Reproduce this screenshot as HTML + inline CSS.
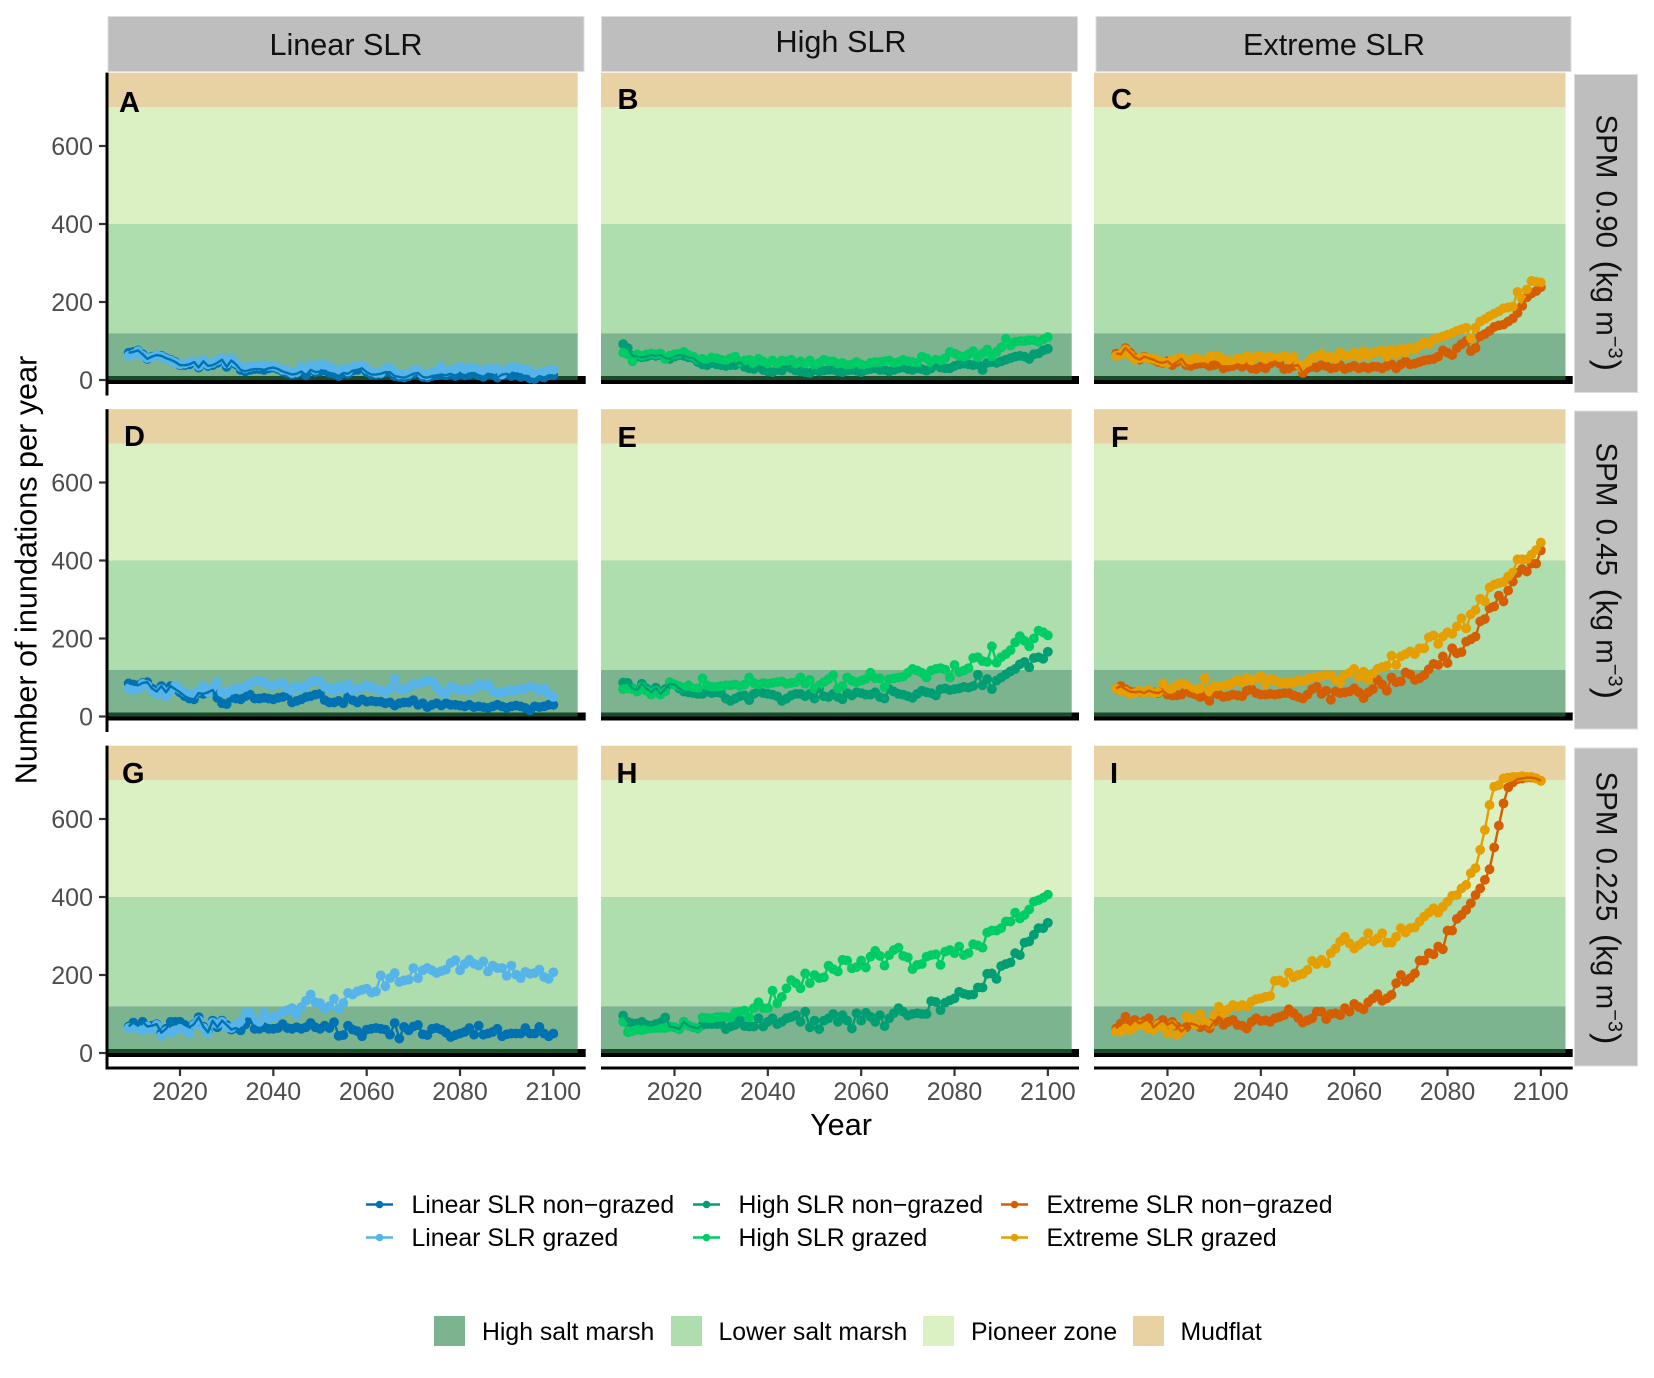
<!DOCTYPE html>
<html lang="en">
<head>
<meta charset="utf-8">
<title>Number of inundations per year</title>
<style>
html,body{margin:0;padding:0;background:#fff;}
svg{display:block;font-family:"Liberation Sans",Arial,Helvetica,sans-serif;}
.strip{fill:#BEBEBE;stroke:#DEDEDE;stroke-width:1;}
.st{font-size:30.6px;fill:#111;text-anchor:middle;}
.sr{font-size:29.5px;fill:#111;}
.tag{font-size:29px;font-weight:bold;fill:#000;}
.leg{font-size:24.8px;fill:#000;}
.tick{font-size:25px;fill:#4D4D4D;}
.title{font-size:30.6px;fill:#000;text-anchor:middle;}
</style>
</head>
<body>
<svg id="chart" xmlns="http://www.w3.org/2000/svg" width="1654" height="1378" viewBox="0 0 1654 1378">
  <rect x="0" y="0" width="1654" height="1378" fill="#fff"/>
  <g id="panels"></g>
  <g id="axes"></g>

  <g>
    <rect class="strip" x="108" y="16.5" width="476" height="55"/>
    <text class="st" x="346" y="55">Linear SLR</text>
    <rect class="strip" x="601.5" y="16.5" width="476" height="55"/>
    <text class="st" x="841" y="52">High SLR</text>
    <rect class="strip" x="1096" y="16.5" width="475" height="55"/>
    <text class="st" x="1334" y="55">Extreme SLR</text>
  </g>

  <g>
    <rect class="strip" x="1574.5" y="74.5" width="63" height="318"/>
    <text class="sr" transform="translate(1596.5,114.5) rotate(90)">SPM<tspan dx="4"> </tspan>0.90<tspan dx="3" font-size="34"> (</tspan>kg m<tspan font-size="20" dy="-12">−3</tspan><tspan font-size="34" dy="12" dx="1">)</tspan></text>
    <rect class="strip" x="1574.5" y="411" width="63" height="318"/>
    <text class="sr" transform="translate(1596.5,442.5) rotate(90)">SPM<tspan dx="4"> </tspan>0.45<tspan dx="3" font-size="34"> (</tspan>kg m<tspan font-size="20" dy="-12">−3</tspan><tspan font-size="34" dy="12" dx="1">)</tspan></text>
    <rect class="strip" x="1574.5" y="748" width="63" height="318"/>
    <text class="sr" transform="translate(1596.5,771.5) rotate(90)">SPM<tspan dx="4"> </tspan>0.225<tspan dx="3" font-size="34"> (</tspan>kg m<tspan font-size="20" dy="-12">−3</tspan><tspan font-size="34" dy="12" dx="1">)</tspan></text>
  </g>

  <g>
    <text class="tag" x="119" y="112">A</text>
    <text class="tag" x="617.5" y="109">B</text>
    <text class="tag" x="1111" y="109">C</text>
    <text class="tag" x="124" y="446">D</text>
    <text class="tag" x="617.5" y="447">E</text>
    <text class="tag" x="1111" y="447">F</text>
    <text class="tag" x="122" y="783">G</text>
    <text class="tag" x="616.5" y="783">H</text>
    <text class="tag" x="1110" y="783">I</text>
  </g>

  <text class="title" transform="translate(36.5,570) rotate(-90)">Number of inundations per year</text>
  <text class="title" x="841" y="1135">Year</text>

  <g>
    <g>
      <line x1="366" x2="393" y1="1204.5" y2="1204.5" stroke="#0072B2" stroke-width="2.4"/><circle cx="379.5" cy="1204.5" r="3.8" fill="#0072B2"/>
      <text class="leg" x="411.5" y="1213">Linear SLR non−grazed</text>
    </g>
    <g>
      <line x1="366" x2="393" y1="1237.5" y2="1237.5" stroke="#56B4E9" stroke-width="2.4"/><circle cx="379.5" cy="1237.5" r="3.8" fill="#56B4E9"/>
      <text class="leg" x="411.5" y="1246">Linear SLR grazed</text>
    </g>
    <g>
      <line x1="693" x2="720" y1="1204.5" y2="1204.5" stroke="#009E73" stroke-width="2.4"/><circle cx="706.5" cy="1204.5" r="3.8" fill="#009E73"/>
      <text class="leg" x="738.5" y="1213">High SLR non−grazed</text>
    </g>
    <g>
      <line x1="693" x2="720" y1="1237.5" y2="1237.5" stroke="#00CC66" stroke-width="2.4"/><circle cx="706.5" cy="1237.5" r="3.8" fill="#00CC66"/>
      <text class="leg" x="738.5" y="1246">High SLR grazed</text>
    </g>
    <g>
      <line x1="1001" x2="1028" y1="1204.5" y2="1204.5" stroke="#D55E00" stroke-width="2.4"/><circle cx="1014.5" cy="1204.5" r="3.8" fill="#D55E00"/>
      <text class="leg" x="1046.5" y="1213">Extreme SLR non−grazed</text>
    </g>
    <g>
      <line x1="1001" x2="1028" y1="1237.5" y2="1237.5" stroke="#E69F00" stroke-width="2.4"/><circle cx="1014.5" cy="1237.5" r="3.8" fill="#E69F00"/>
      <text class="leg" x="1046.5" y="1246">Extreme SLR grazed</text>
    </g>
  </g>

  <g>
    <g>
      <rect x="434" y="1316" width="31" height="30" fill="#7CB48F"/>
      <text class="leg" x="482" y="1340">High salt marsh</text>
    </g>
    <g>
      <rect x="671" y="1316" width="31" height="30" fill="#AEDDAE"/>
      <text class="leg" x="718.5" y="1340">Lower salt marsh</text>
    </g>
    <g>
      <rect x="923" y="1316" width="31" height="30" fill="#DBF0C3"/>
      <text class="leg" x="971" y="1340">Pioneer zone</text>
    </g>
    <g>
      <rect x="1133" y="1316" width="31" height="30" fill="#E8D2A4"/>
      <text class="leg" x="1180.5" y="1340">Mudflat</text>
    </g>
  </g>
</svg>

<script>
// ---- categories and tick labels ----
const years = [
2009,2010,2011,2012,2013,2014,2015,2016,2017,2018,
2019,2020,2021,2022,2023,2024,2025,2026,2027,2028,
2029,2030,2031,2032,2033,2034,2035,2036,2037,2038,
2039,2040,2041,2042,2043,2044,2045,2046,2047,2048,
2049,2050,2051,2052,2053,2054,2055,2056,2057,2058,
2059,2060,2061,2062,2063,2064,2065,2066,2067,2068,
2069,2070,2071,2072,2073,2074,2075,2076,2077,2078,
2079,2080,2081,2082,2083,2084,2085,2086,2087,2088,
2089,2090,2091,2092,2093,2094,2095,2096,2097,2098,
2099,2100];
const xTickLabels = [2020,2040,2060,2080,2100];
const yTickLabels = [0,200,400,600];
const zoneLimits = [0,120,400,700,788];
const zoneNames = ['high-salt-marsh','lower-salt-marsh','pioneer-zone','mudflat'];

// ---- series values: inundations per year ----
const linear090Non = [
70,72,76,66,54,60,64,62,56,52,
46,38,38,40,46,32,48,36,38,44,
52,34,50,40,26,22,26,28,28,26,
30,32,28,22,18,14,16,22,12,26,
20,22,24,18,16,10,18,16,24,26,
30,20,14,14,16,20,20,10,8,6,
10,16,18,8,6,10,12,14,12,16,
10,16,12,14,18,12,8,16,14,6,
14,16,10,14,8,10,4,2,10,6,
12,12];
const linear090Graz = [
62,66,74,62,56,58,64,60,54,50,
44,40,42,46,48,36,52,40,44,50,
56,42,56,44,34,30,34,36,36,38,
36,36,32,26,24,18,20,34,26,38,
26,40,38,34,28,22,28,22,34,36,
38,28,22,18,18,30,32,20,14,14,
16,24,26,14,12,20,24,34,20,24,
28,34,28,32,32,26,20,30,26,30,
14,26,34,32,30,26,24,14,18,20,
26,26];
const high090Non = [
92,82,62,60,58,60,64,62,64,56,
54,60,64,62,58,56,46,40,38,44,
40,38,36,38,38,46,34,30,28,34,
26,22,20,26,24,36,30,24,22,20,
18,26,22,24,26,26,22,20,24,26,
24,20,26,28,30,26,26,22,26,30,
32,28,26,30,28,24,30,40,32,30,
30,36,40,42,40,38,40,26,44,46,
44,48,52,56,60,62,60,54,66,68,
76,80];
const high090Graz = [
70,66,48,66,62,66,68,66,68,54,
62,66,68,72,64,60,52,54,50,58,
56,52,50,56,60,46,50,52,40,54,
48,42,50,42,50,48,52,42,48,42,
50,38,44,52,48,48,42,44,38,40,
46,40,36,44,46,46,48,50,44,46,
52,48,46,44,60,56,44,52,50,56,
72,68,62,60,66,74,58,68,78,60,
72,84,106,88,98,100,100,102,102,98,
104,110];
const extreme090Non = [
68,66,82,70,58,52,60,56,52,46,
44,48,38,46,54,38,36,40,42,42,
36,38,42,30,34,36,40,34,40,30,
28,34,30,42,48,42,28,30,36,38,
18,30,34,32,38,36,30,32,38,28,
32,36,30,34,30,34,34,30,36,40,
30,40,48,40,42,46,50,52,54,60,
76,70,64,82,92,100,74,82,112,118,
126,136,140,142,150,158,172,190,212,222,
228,238];
const extreme090Graz = [
62,66,78,64,52,56,58,56,54,50,
46,44,52,54,58,46,52,56,52,50,
60,62,60,50,50,46,56,52,62,50,
60,62,54,60,56,58,62,52,60,40,
30,44,56,62,66,58,60,54,70,62,
62,70,60,74,62,70,72,76,60,78,
66,80,70,84,78,88,96,92,104,108,
112,116,120,126,130,134,106,134,150,156,
164,170,176,184,186,188,226,208,232,254,
252,250];
const linear045Non = [
85,82,80,86,88,72,64,78,62,78,
70,62,52,46,44,60,58,62,68,48,
34,32,48,46,44,52,56,46,46,48,
46,44,48,50,54,36,40,44,50,52,
56,58,42,36,36,40,34,50,42,36,
44,38,40,38,38,34,36,28,34,36,
36,42,30,34,24,30,34,28,34,30,
30,28,26,30,24,26,24,22,26,30,
26,22,26,28,26,22,16,26,24,26,
30,30];
const linear045Graz = [
72,68,70,84,80,64,58,70,52,66,
80,70,62,56,56,66,78,62,74,88,
62,60,68,72,70,76,84,90,92,88,
80,78,84,86,72,66,78,72,78,88,
92,90,76,72,66,78,70,84,66,70,
74,80,74,70,66,62,72,96,72,68,
74,84,84,88,92,90,76,62,58,76,
72,68,70,66,72,84,78,82,66,60,
62,64,68,66,70,72,76,74,66,72,
58,50];
const high045Non = [
87,86,72,68,84,72,62,74,58,70,
84,82,72,64,62,60,58,58,64,60,
62,60,46,40,46,52,54,42,58,64,
60,58,56,52,40,46,54,58,58,52,
58,46,72,52,50,58,50,44,60,54,
62,60,56,56,62,50,46,70,64,58,
56,52,48,58,66,62,60,54,70,72,
68,70,72,76,74,78,107,80,96,70,
92,100,108,116,122,134,140,126,150,152,
148,166];
const high045Graz = [
70,72,70,64,76,66,56,66,56,64,
88,82,78,74,80,72,72,98,80,76,
76,78,80,80,82,78,82,100,86,82,
86,84,86,88,90,84,86,88,100,84,
94,72,80,88,96,106,72,78,100,92,
88,92,96,112,98,98,75,96,98,100,
102,112,122,118,112,100,118,122,124,120,
100,132,114,118,124,150,152,142,140,180,
138,152,160,170,190,206,194,180,200,220,
216,208];
const extreme045Non = [
72,78,70,64,62,64,60,66,62,60,
66,56,54,54,56,68,60,56,50,52,
40,60,56,50,52,56,54,52,66,70,
60,56,56,58,56,58,60,60,54,50,
46,56,70,76,58,66,43,64,60,62,
64,72,62,47,62,70,94,82,66,100,
88,90,113,108,94,98,106,121,135,132,
154,137,175,162,165,192,198,205,244,250,
278,282,310,295,323,346,368,378,372,392,
392,426];
const extreme045Graz = [
72,66,64,58,60,66,60,68,60,62,
85,66,72,80,85,81,72,68,72,98,
64,77,78,79,82,86,94,88,98,92,
96,103,83,96,92,87,85,88,87,92,
90,96,100,101,104,106,106,94,88,107,
112,122,100,115,94,110,122,127,130,156,
132,154,160,167,160,175,175,203,208,186,
205,216,212,231,252,226,262,273,302,295,
331,338,342,345,359,369,403,403,403,415,
427,446];
const linear0225Non = [
68,78,70,80,68,70,74,52,62,80,
80,80,72,66,74,92,68,53,83,66,
83,72,60,64,58,73,87,62,62,66,
62,62,64,74,64,62,66,62,66,77,
66,62,70,64,79,44,46,70,60,56,
43,60,62,64,62,60,47,77,37,67,
58,68,72,48,46,62,64,60,52,41,
46,50,54,64,47,70,47,50,54,62,
43,48,50,50,50,64,50,50,67,50,
43,50];
const linear0225Graz = [
64,66,62,58,68,60,72,44,56,52,
58,62,60,50,72,84,64,50,78,74,
80,66,64,72,80,103,103,85,80,103,
88,92,96,107,110,115,98,118,134,150,
130,128,113,120,139,113,128,154,150,158,
162,165,155,158,199,171,192,205,182,186,
188,218,192,212,218,212,205,210,214,231,
238,212,228,239,229,224,235,209,224,218,
218,198,224,201,192,208,203,205,214,195,
190,207];
const high0225Non = [
96,80,76,76,80,72,70,74,78,91,
68,66,61,80,70,66,63,72,74,74,
74,74,61,68,72,85,69,68,68,89,
68,80,89,74,80,89,92,97,80,106,
66,83,61,83,89,100,80,97,83,63,
102,83,103,93,80,97,69,89,102,115,
106,96,100,102,100,100,133,131,110,129,
135,140,157,152,149,150,168,168,203,204,
190,223,228,232,256,251,283,286,303,320,
320,334];
const high0225Graz = [
80,53,56,60,58,62,63,64,64,64,
68,66,61,80,70,66,63,91,90,89,
92,93,92,91,104,106,109,91,115,130,
115,115,160,127,144,166,187,179,166,204,
179,200,192,194,224,215,209,239,237,217,
220,237,219,247,262,249,224,251,264,270,
249,245,215,226,228,247,251,253,226,260,
264,256,273,251,256,279,276,270,309,314,
314,320,337,337,360,345,354,368,388,392,
398,406];
const extreme0225Non = [
63,76,93,72,85,76,82,89,66,76,
85,72,80,68,55,66,76,72,66,70,
63,80,93,72,80,85,72,70,63,80,
89,82,84,80,89,92,97,112,102,90,
78,84,89,106,106,87,100,102,97,115,
106,126,118,112,130,140,151,134,140,149,
179,200,183,192,204,237,237,256,253,273,
266,314,314,344,354,367,384,405,422,444,
471,527,583,640,681,694,702,704,706,706,
704,698];
const extreme0225Graz = [
55,55,63,59,68,72,72,62,59,72,
66,50,72,46,55,93,89,72,100,80,
72,97,119,102,112,123,119,123,119,132,
138,140,144,146,185,186,180,206,194,200,
203,213,236,228,239,230,256,268,286,298,
281,268,277,286,307,286,294,307,283,283,
298,320,309,320,322,337,350,360,371,360,
375,388,403,405,422,431,461,474,521,572,
636,683,687,704,706,708,708,710,708,708,
704,698];

const panelSeries = [
  [linear090Non, linear090Graz, high090Non, high090Graz, extreme090Non, extreme090Graz],
  [linear045Non, linear045Graz, high045Non, high045Graz, extreme045Non, extreme045Graz],
  [linear0225Non, linear0225Graz, high0225Non, high0225Graz, extreme0225Non, extreme0225Graz]
];
const scenarioNames = ['linear','high','extreme'];
const rowNames = ['spm-090','spm-045','spm-0225'];
const nonGrazedColors = ['#0072B2','#009E73','#D55E00'];
const grazedColors = ['#56B4E9','#00CC66','#E69F00'];
const zoneColors = ['#7CB48F','#AEDDAE','#DBF0C3','#E8D2A4'];

// ---- axis functions ----
const NS = 'http://www.w3.org/2000/svg';
const yearPx = 4.667;
const valuePx = 0.39;
function xScale(col, year) {
  const at2020 = [180, 674.5, 1167.5][col];
  return at2020 + (year - 2020) * yearPx;
}
function yScale(row, value) {
  const zero = [380, 716.5, 1053][row];
  return zero - value * valuePx;
}
function make(parent, tag, attrs) {
  const el = document.createElementNS(NS, tag);
  for (const k in attrs) el.setAttribute(k, attrs[k]);
  parent.appendChild(el);
  return el;
}

const panelsRoot = document.getElementById('panels');
const axesRoot = document.getElementById('axes');
const rectLeft = [108, 601, 1094];
const rectRight = [577.7, 1071.7, 1565.5];
const bandRight = [585.7, 1079, 1572.7];
const pointRadius = 4.9;

function drawPanel(row, col) {
  const id = rowNames[row] + '-' + scenarioNames[col];
  const g = make(panelsRoot, 'g', {});
  
  

  const x0 = rectLeft[col], x1 = rectRight[col];
  for (let z = 0; z < zoneNames.length; z++) {
    const top = yScale(row, zoneLimits[z + 1]);
    const bottom = yScale(row, zoneLimits[z]);
    const zone = make(g, 'rect', {x: x0, y: top, width: x1 - x0, height: bottom - top, fill: zoneColors[z]});
    
    
  }
  const zeroY = yScale(row, 0);
  const band = make(g, 'rect', {x: x0, y: zeroY - 4, width: bandRight[col] - x0, height: 8, fill: '#000'});
  
  
  const dark = make(g, 'rect', {x: x0, y: zeroY - 4, width: x1 - x0, height: 4, fill: '#1A4C2A'});
  
  

  const non = panelSeries[row][col * 2];
  const graz = panelSeries[row][col * 2 + 1];
  const toPoints = vals => vals.map((v, i) => xScale(col, years[i]).toFixed(2) + ',' + yScale(row, v).toFixed(2)).join(' ');

  const grazLine = make(g, 'polyline', {points: toPoints(graz), fill: 'none', stroke: grazedColors[col], 'stroke-width': 2.4, 'stroke-linejoin': 'round'});
  
  

  non.forEach((v, i) => {
    const p = make(g, 'circle', {cx: xScale(col, years[i]).toFixed(2), cy: yScale(row, v).toFixed(2), r: pointRadius, fill: nonGrazedColors[col]});
    
    
  });
  graz.forEach((v, i) => {
    const p = make(g, 'circle', {cx: xScale(col, years[i]).toFixed(2), cy: yScale(row, v).toFixed(2), r: pointRadius, fill: grazedColors[col]});
    
    
  });

  const nonLine = make(g, 'polyline', {points: toPoints(non), fill: 'none', stroke: nonGrazedColors[col], 'stroke-width': 2.4, 'stroke-linejoin': 'round'});
  
  
}

for (let r = 0; r < 3; r++) for (let c = 0; c < 3; c++) drawPanel(r, c);

// y axes (first column only)
for (let r = 0; r < 3; r++) {
  const top = yScale(r, 788);
  const bottom = yScale(r, 0) + 15.5;
  const axis = make(axesRoot, 'line', {x1: 107, x2: 107, y1: top, y2: bottom, stroke: '#000', 'stroke-width': 3});
  
  
  yTickLabels.forEach(v => {
    const y = yScale(r, v);
    const tick = make(axesRoot, 'line', {x1: 99, x2: 106, y1: y, y2: y, stroke: '#333', 'stroke-width': 2.2});
    
    
    const label = make(axesRoot, 'text', {x: 93, y: y + 8.8, 'text-anchor': 'end', class: 'tick'});
    
    
    label.textContent = v;
  });
}
// x axes (bottom row only)
for (let c = 0; c < 3; c++) {
  const left = c === 0 ? 105.5 : rectLeft[c];
  const axis = make(axesRoot, 'line', {x1: left, x2: bandRight[c], y1: 1068, y2: 1068, stroke: '#000', 'stroke-width': 3});
  
  
  xTickLabels.forEach(v => {
    const x = xScale(c, v);
    const tick = make(axesRoot, 'line', {x1: x, x2: x, y1: 1069, y2: 1076, stroke: '#333', 'stroke-width': 2.2});
    
    
    const label = make(axesRoot, 'text', {x: x, y: 1100, 'text-anchor': 'middle', class: 'tick'});
    
    
    label.textContent = v;
  });
}
</script>
</body>
</html>
